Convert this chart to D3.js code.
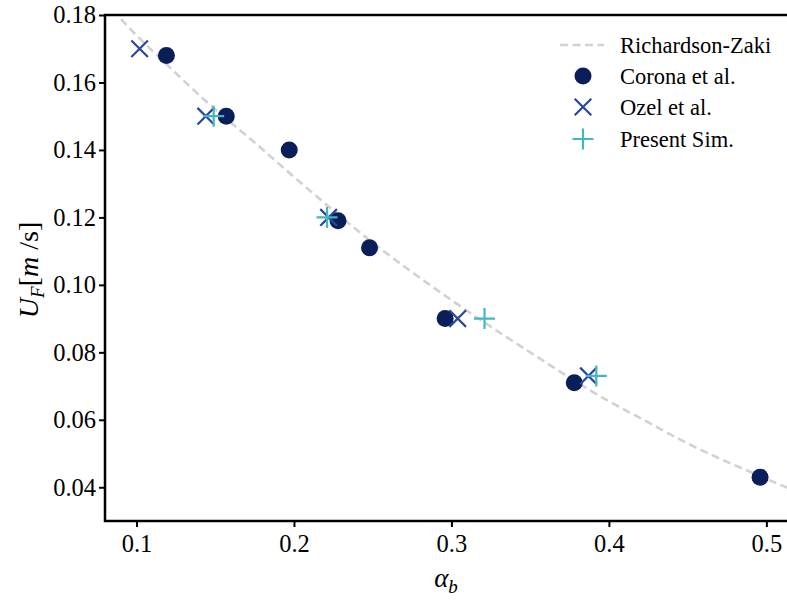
<!DOCTYPE html>
<html>
<head>
<meta charset="utf-8">
<script src="https://cdn.jsdelivr.net/npm/d3@7"></script>
<style>
  html, body { margin: 0; padding: 0; background: #fff; }
  svg { display: block; }
  text { font-family: "Liberation Serif", "DejaVu Serif", serif; fill: #000; }
</style>
</head>
<body>
<svg id="chart" width="787" height="603"></svg>
<script>
// ---- data ----
const coronaAlpha = [0.119, 0.157, 0.197, 0.228, 0.248, 0.296, 0.378, 0.496];
const coronaU     = [0.168, 0.150, 0.140, 0.119, 0.111, 0.090, 0.071, 0.043];

const ozelAlpha = [0.102, 0.144, 0.222, 0.304, 0.387];
const ozelU     = [0.170, 0.150, 0.120, 0.090, 0.073];

const simAlpha = [0.149, 0.221, 0.321, 0.392];
const simU     = [0.150, 0.120, 0.090, 0.073];

const rzAlpha = [0.080, 0.088, 0.12, 0.15, 0.173, 0.20, 0.25, 0.30, 0.35, 0.40, 0.42, 0.45, 0.50, 0.52];
const rzU     = [0.1845, 0.180, 0.165, 0.152, 0.143, 0.132, 0.1125, 0.0955, 0.080, 0.0655, 0.0605, 0.053, 0.0425, 0.0385];

const xTicks = [0.1, 0.2, 0.3, 0.4, 0.5];
const yTicks = [0.04, 0.06, 0.08, 0.10, 0.12, 0.14, 0.16, 0.18];

const legendLabels = ["Richardson-Zaki", "Corona et al.", "Ozel et al.", "Present Sim."];

(function () {
// ---- layout ----
const svg = d3.select("#chart");
const pL = 105, pR = 787.5, pT = 15, pB = 521;
const x = d3.scaleLinear().domain([0.08, 0.5131]).range([pL, pR - 0.5]);
const y = d3.scaleLinear().domain([0.03, 0.18]).range([pB, pT]);

const cNavy = "#0a1e5a", cBlue = "#2a47a0", cTeal = "#41b6c4", cGrey = "#d2d2d2";

// clip
svg.append("clipPath").attr("id", "clip").append("rect")
  .attr("x", pL).attr("y", pT).attr("width", pR - pL).attr("height", pB - pT);

const plot = svg.append("g").attr("clip-path", "url(#clip)");

// Richardson-Zaki curve
const rz = rzAlpha.map((a, i) => [a, rzU[i]]);
plot.append("path")
  .datum(rz)
  .attr("fill", "none")
  .attr("stroke", cGrey)
  .attr("stroke-width", 2.6)
  .attr("stroke-dasharray", "8,4.5")
  .attr("d", d3.line().x(d => x(d[0])).y(d => y(d[1])).curve(d3.curveMonotoneX));

// Corona: filled circles
plot.selectAll("circle.corona")
  .data(coronaAlpha.map((a, i) => [a, coronaU[i]]))
  .join("circle")
  .attr("class", "corona")
  .attr("cx", d => x(d[0])).attr("cy", d => y(d[1]))
  .attr("r", 8.5)
  .attr("fill", cNavy);

// Ozel: x markers
const xs = 8.3;
const xPath = `M${-xs},${-xs}L${xs},${xs}M${-xs},${xs}L${xs},${-xs}`;
plot.selectAll("path.ozel")
  .data(ozelAlpha.map((a, i) => [a, ozelU[i]]))
  .join("path")
  .attr("class", "ozel")
  .attr("transform", d => `translate(${x(d[0])},${y(d[1])})`)
  .attr("d", xPath)
  .attr("stroke", cBlue).attr("stroke-width", 2.2).attr("fill", "none");

// Present Sim: + markers
const ps = 10.5;
const pPath = `M${-ps},0L${ps},0M0,${-ps}L0,${ps}`;
plot.selectAll("path.sim")
  .data(simAlpha.map((a, i) => [a, simU[i]]))
  .join("path")
  .attr("class", "sim")
  .attr("transform", d => `translate(${x(d[0])},${y(d[1])})`)
  .attr("d", pPath)
  .attr("stroke", cTeal).attr("stroke-width", 2.2).attr("fill", "none");

// axes
const xAxis = d3.axisBottom(x).tickValues(xTicks).tickFormat(d3.format(".1f")).tickSize(6).tickPadding(8);
const yAxis = d3.axisLeft(y).tickValues(yTicks).tickFormat(d3.format(".2f")).tickSize(6).tickPadding(3);

const gx = svg.append("g").attr("transform", `translate(0,${pB})`).call(xAxis);
const gy = svg.append("g").attr("transform", `translate(${pL},0)`).call(yAxis);
[gx, gy].forEach(g => {
  g.select(".domain").remove();
  g.selectAll(".tick line").attr("stroke", "#000").attr("stroke-width", 2);
  g.selectAll(".tick text").attr("font-size", 24.5).attr("font-family", "Liberation Serif, serif").attr("fill", "#000");
});

// spines
svg.append("rect")
  .attr("x", pL).attr("y", pT).attr("width", pR - pL + 2).attr("height", pB - pT)
  .attr("fill", "none").attr("stroke", "#000").attr("stroke-width", 2.5);

// axis labels
const xl = svg.append("text")
  .attr("x", 446).attr("y", 587)
  .attr("text-anchor", "middle")
  .attr("font-size", 27).attr("font-style", "italic");
xl.append("tspan").text("α");
xl.append("tspan").attr("font-size", 19).attr("dy", 6).text("b");

const yl = svg.append("text")
  .attr("transform", "translate(38,270) rotate(-90)")
  .attr("text-anchor", "middle")
  .attr("font-size", 28);
yl.append("tspan").attr("font-style", "italic").text("U");
yl.append("tspan").attr("font-style", "italic").attr("font-size", 19).attr("dy", 6).text("F");
yl.append("tspan").attr("dy", -6).text("[");
yl.append("tspan").attr("font-style", "italic").text("m");
yl.append("tspan").text(" /s]");

// legend
const lg = svg.append("g");
const rowY = [45, 76, 107, 139];
const mx = 583, tx = 620;
lg.append("line").attr("x1", 560).attr("x2", 604).attr("y1", rowY[0]).attr("y2", rowY[0])
  .attr("stroke", cGrey).attr("stroke-width", 2.6).attr("stroke-dasharray", "8,4.5");
lg.append("circle").attr("cx", mx).attr("cy", rowY[1]).attr("r", 8.5).attr("fill", cNavy);
lg.append("path").attr("transform", `translate(${mx},${rowY[2]})`).attr("d", xPath)
  .attr("stroke", cBlue).attr("stroke-width", 2.2).attr("fill", "none");
lg.append("path").attr("transform", `translate(${mx},${rowY[3]})`).attr("d", pPath)
  .attr("stroke", cTeal).attr("stroke-width", 2.2).attr("fill", "none");
lg.selectAll("text.leg").data(legendLabels).join("text")
  .attr("class", "leg")
  .attr("x", tx).attr("y", (d, i) => rowY[i]).attr("dy", "0.35em")
  .attr("font-size", 22.5)
  .text(d => d);
})();
</script>
</body>
</html>
